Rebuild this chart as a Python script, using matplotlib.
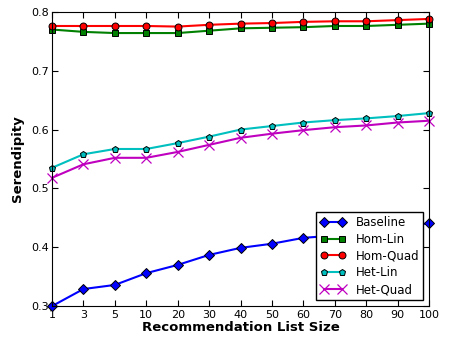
import matplotlib
matplotlib.use("Agg")
import matplotlib.pyplot as plt

list_sizes = ["1", "3", "5", "10", "20", "30", "40", "50", "60", "70", "80", "90", "100"]
baseline = [0.300, 0.329, 0.336, 0.356, 0.370, 0.387, 0.399, 0.406, 0.416, 0.420, 0.426, 0.433, 0.441]
hom_lin  = [0.770, 0.766, 0.764, 0.764, 0.764, 0.768, 0.772, 0.773, 0.774, 0.776, 0.776, 0.778, 0.780]
hom_quad = [0.776, 0.776, 0.776, 0.776, 0.775, 0.778, 0.780, 0.781, 0.783, 0.784, 0.784, 0.786, 0.788]
het_lin  = [0.535, 0.558, 0.567, 0.567, 0.577, 0.588, 0.600, 0.606, 0.612, 0.616, 0.619, 0.623, 0.628]
het_quad = [0.518, 0.541, 0.552, 0.552, 0.562, 0.574, 0.586, 0.593, 0.599, 0.604, 0.607, 0.612, 0.615]
yticks = [0.3, 0.4, 0.5, 0.6, 0.7, 0.8]

fig = plt.figure(figsize=(4.56, 3.39), dpi=100)
ax = fig.add_axes([0.114, 0.097, 0.827, 0.868])
x = list(range(len(list_sizes)))

series = [
    ("Baseline", baseline, (0, 0, 1), "D", 5),
    ("Hom-Lin", hom_lin, (0, 0.5, 0), "s", 5),
    ("Hom-Quad", hom_quad, (1, 0, 0), "o", 5),
    ("Het-Lin", het_lin, (0, 0.75, 0.75), "p", 4.5),
    ("Het-Quad", het_quad, (0.75, 0, 0.75), "x", 7),
]
for name, vals, col, mk, ms in series:
    if mk == "x":
        ax.plot(x, vals, color=col, marker=mk, markersize=ms, lw=1.5,
                markeredgecolor=col, markeredgewidth=0.9, label=name, clip_on=False)
    else:
        ax.plot(x, vals, color=col, marker=mk, markersize=ms, lw=1.5,
                markerfacecolor=col, markeredgecolor="black", markeredgewidth=0.7,
                label=name, clip_on=False)

ax.set_xlim(0, len(list_sizes) - 1)
ax.set_ylim(0.3, 0.8)
ax.set_xticks(x)
ax.set_xticklabels(list_sizes)
ax.set_yticks(yticks)
ax.set_yticklabels([f"{v:.1f}" for v in yticks])
ax.tick_params(direction="in", top=True, right=True, labelsize=8, length=4, pad=2.5)
ax.set_xlabel("Recommendation List Size", fontsize=9.5, fontweight="bold", labelpad=1)
ax.set_ylabel("Serendipity", fontsize=9.5, fontweight="bold", labelpad=5)

leg = ax.legend(loc="lower right", numpoints=2, fontsize=8.5, fancybox=False,
                framealpha=1, edgecolor="black", borderaxespad=0.5,
                handlelength=2.2, labelspacing=0.32, borderpad=0.35)
leg.get_frame().set_linewidth(1.0)

fig.savefig("out.png", dpi=100)
